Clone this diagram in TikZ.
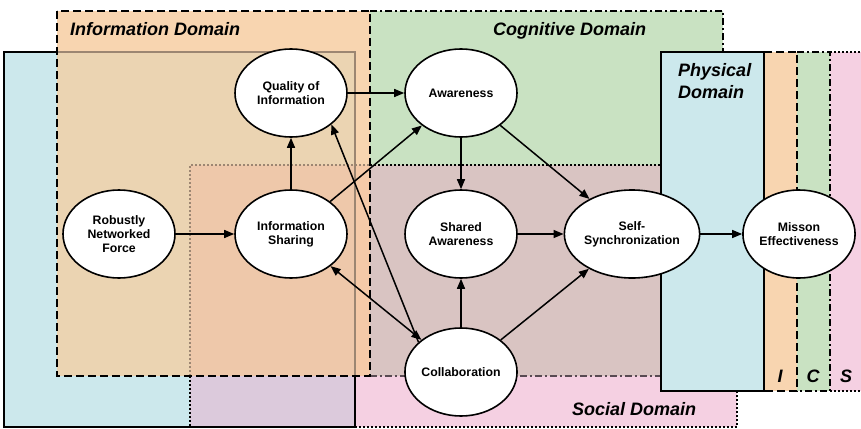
\documentclass[tikz,border=0pt]{standalone}
\usepackage{fontspec}
\setmainfont{Liberation Sans}
\usetikzlibrary{arrows.meta,shapes.geometric}
\definecolor{cblue}{HTML}{CCE8EC}
\definecolor{cpink}{HTML}{F5D0E2}
\definecolor{cphsoc}{HTML}{DCCADC}
\definecolor{corange}{HTML}{F8D5B0}
\definecolor{ctan}{HTML}{EBD4B2}
\definecolor{cpeach}{HTML}{EEC8AA}
\definecolor{cinfsoc}{HTML}{F5CAA8}
\definecolor{cgreen}{HTML}{C9E2C2}
\definecolor{ccogsoc}{HTML}{D9C4C2}
\definecolor{ghostline}{HTML}{9C8672}
\definecolor{coglow}{HTML}{584A52}
\tikzset{
  physb/.style={draw=black,line width=2.2pt},
  physg/.style={draw=ghostline,line width=2.2pt},
  socb/.style={draw=black,line width=2pt,dash pattern=on 2pt off 2pt},
  socg/.style={draw=ghostline,line width=2pt,dash pattern=on 2pt off 2pt},
  infb/.style={draw=black,line width=2pt,dash pattern=on 8pt off 4pt},
  cogb/.style={draw=black,line width=2pt,dash pattern=on 7pt off 3pt on 2pt off 3pt},
  cogl/.style={draw=coglow,line width=2pt,dash pattern=on 7pt off 3pt on 2pt off 3pt},
  ell/.style={ellipse,draw=black,fill=white,line width=1.6pt,minimum width=112pt,minimum height=88pt,inner sep=0pt,align=center,font=\fontsize{12.3}{13.8}\selectfont\bfseries},
  dom/.style={inner sep=0pt,font=\fontsize{18}{22.5}\selectfont\bfseries\itshape},
  arr/.style={line width=1.5pt,-{Triangle[length=10pt,width=8pt]}},
  darr/.style={line width=1.5pt,{Triangle[length=10pt,width=8pt]}-{Triangle[length=10pt,width=8pt]}}
}
\begin{document}
\begin{tikzpicture}[x=1pt,y=-1pt]
\useasboundingbox (0,0) rectangle (861,428);
% fills
\fill[cblue] (4,52) rectangle (355,427);
\fill[cpink] (190,165) rectangle (737,427);
\fill[cphsoc] (190,376) rectangle (355,427);
\fill[corange] (57,11) rectangle (370,376);
\fill[ctan] (57,52) rectangle (355,376);
\fill[cpeach] (190,165) rectangle (355,376);
\fill[cinfsoc] (355,165) rectangle (370,376);
\fill[cgreen] (370,11) rectangle (723,376);
\fill[ccogsoc] (370,165) rectangle (661,376);
\fill[cblue] (661,52) rectangle (764,391);
\fill[corange] (764,52) rectangle (797,391);
\fill[cgreen] (797,52) rectangle (830,391);
\fill[cpink] (830,52) rectangle (861,391);
% physical borders
\draw[physg] (57,52) -- (355,52) -- (355,376);
\draw[physb] (57,52) -- (4,52) -- (4,427) -- (355,427) -- (355,376);
% social borders
\draw[socg] (190,376) -- (190,165) -- (370,165);
\draw[socb] (370,165) -- (661,165);
\draw[socb] (190,376) -- (190,427);
\draw[socb] (355,427) -- (737,427) -- (737,391);
\draw[socb] (830,52) -- (861,52);
\draw[socb] (830,391) -- (861,391);
% cognitive borders
\draw[cogb] (370,11) -- (723,11) -- (723,52);
\draw[cogl] (370,376) -- (661,376);
\draw[cogb] (797,52) -- (830,52) -- (830,391) -- (797,391);
% information borders
\draw[infb] (57,11) rectangle (370,376);
\draw[infb] (764,52) -- (797,52) -- (797,391) -- (764,391);
% physical right box
\draw[physb] (661,52) rectangle (764,391);
% domain labels
\node[dom,anchor=base west] (linf) at (70,35.5) {Information Domain};
\node[dom,anchor=base west] (lcog) at (493,35.5) {Cognitive Domain};
\node[dom,anchor=base west,align=left] (lphy) at (678,98.5) {Physical\\Domain};
\node[dom,anchor=base west] (lsoc) at (572,415) {Social Domain};
\node[dom,anchor=base] (li) at (780,382) {I};
\node[dom,anchor=base] (lc) at (813,382) {C};
\node[dom,anchor=base] (ls) at (846,382) {S};
% nodes
\node[ell] (rnf) at (119,234) {Robustly\\Networked\\Force};
\node[ell] (qoi) at (291,93) {Quality of\\Information};
\node[ell] (is) at (291,234) {Information\\Sharing};
\node[ell] (aw) at (461,93) {Awareness};
\node[ell] (sa) at (461,234) {Shared\\Awareness};
\node[ell] (ss) at (632,234) {Self-\\Synchronization};
\node[ell] (me) at (799,234) {Misson\\Effectiveness};
\node[ell] (col) at (461,372) {Collaboration};
% connectors
\draw[arr] (rnf) -- (is);
\draw[arr] (is) -- (qoi);
\draw[arr] (qoi) -- (aw);
\draw[arr] (is) -- (aw);
\draw[arr] (col.145) -- (qoi.-38);
\draw[darr] (is) -- (col);
\draw[arr] (aw) -- (sa);
\draw[arr] (aw) -- (ss);
\draw[arr] (sa) -- (ss);
\draw[arr] (col) -- (sa);
\draw[arr] (col) -- (ss);
\draw[arr] (ss) -- (me);
\end{tikzpicture}
\end{document}
